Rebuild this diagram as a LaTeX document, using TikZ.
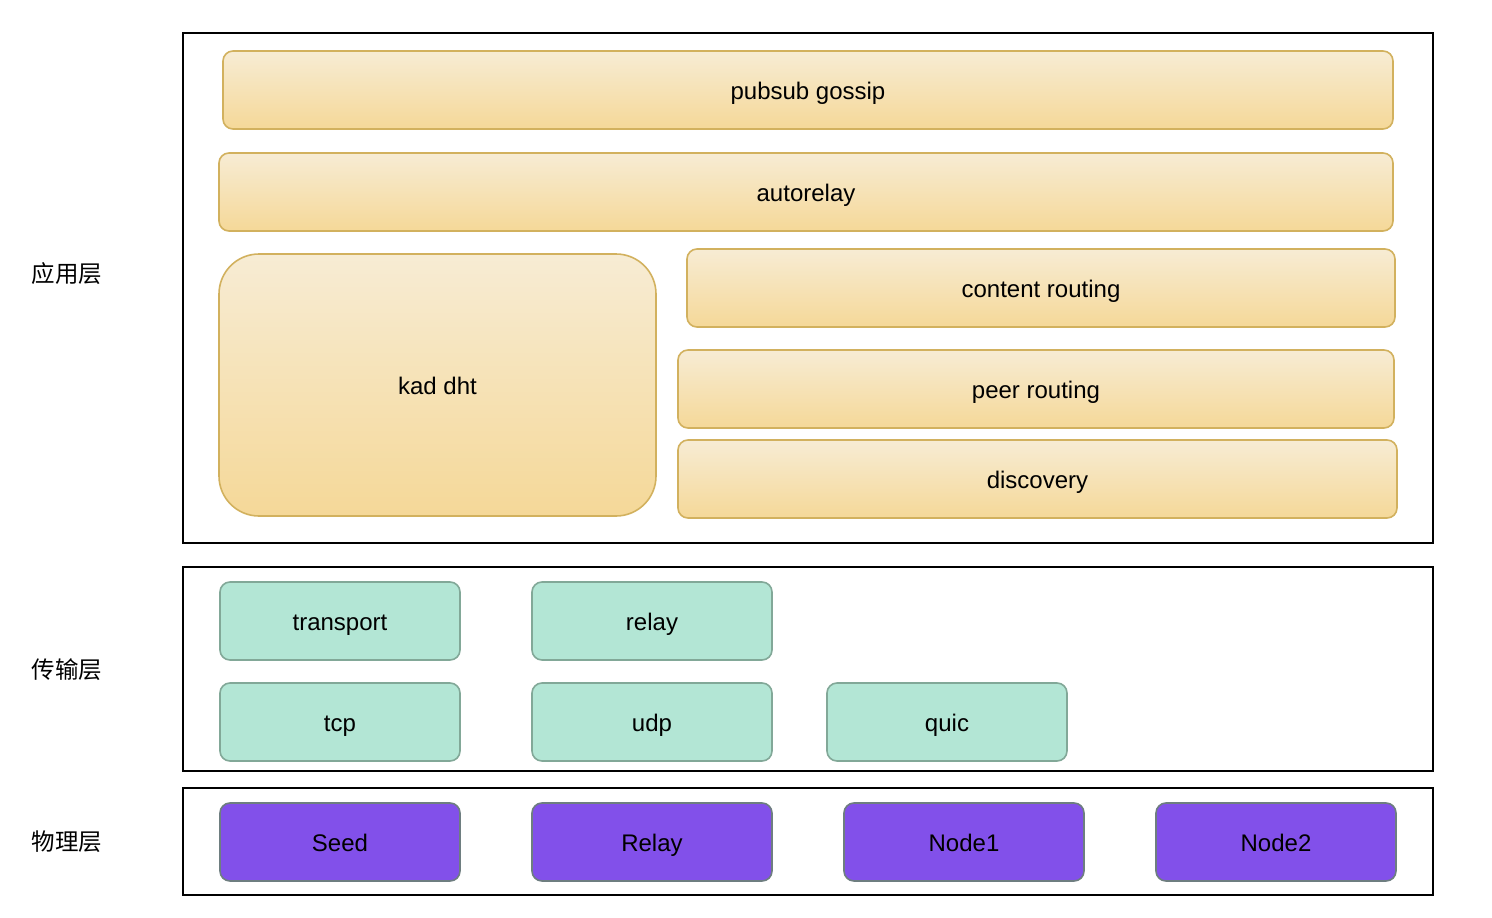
\documentclass[tikz,border=0pt]{standalone}
\usepackage{fontspec}
\setmainfont{Liberation Sans}
\newfontfamily\cjk{Noto Sans CJK SC}
\definecolor{ytop}{HTML}{F7ECD4}
\definecolor{ybot}{HTML}{F5D898}
\definecolor{ystroke}{HTML}{D2B15E}
\definecolor{gfill}{HTML}{B3E6D5}
\definecolor{gstroke}{HTML}{82A898}
\definecolor{pfill}{HTML}{8250EA}
\definecolor{pstroke}{HTML}{6E7E80}
\begin{document}
\begin{tikzpicture}[x=1pt,y=-1pt,
  every node/.style={inner sep=0pt,outer sep=0pt,text height=18pt,text depth=0pt,font=\fontsize{24}{28}\selectfont},
  layer/.style={draw=black,line width=2pt,rectangle},
  ybox/.style={draw=ystroke,line width=1.6pt,rectangle,rounded corners=10pt,top color=ytop,bottom color=ybot},
  gbox/.style={draw=gstroke,line width=1.6pt,rectangle,rounded corners=10pt,fill=gfill,minimum width=240pt,minimum height=78pt},
  pbox/.style={draw=pstroke,line width=1.6pt,rectangle,rounded corners=10pt,fill=pfill,minimum width=240pt,minimum height=78pt},
  lbl/.style={font=\cjk\fontsize{23.5}{28}\selectfont}]
\useasboundingbox (0,0) rectangle (1492,918);
% layer frames
\node[layer,minimum width=1250pt,minimum height=510pt] (app) at (808,288) {};
\node[layer,minimum width=1250pt,minimum height=204pt] (trans) at (808,669) {};
\node[layer,minimum width=1250pt,minimum height=107pt] (phys) at (808,841.5) {};
% labels
\node[lbl] (lapp) at (67,273) {应用层};
\node[lbl] (ltrans) at (67,669) {传输层};
\node[lbl] (lphys) at (67,841) {物理层};
% application layer
\node[ybox,minimum width=1170pt,minimum height=78pt] (pubsub) at (808,90) {pubsub gossip};
\node[ybox,minimum width=1174pt,minimum height=78pt] (autorelay) at (806,192) {autorelay};
\node[ybox,rounded corners=40pt,minimum width=437pt,minimum height=262pt] (kad) at (437.5,385) {kad dht};
\node[ybox,minimum width=708pt,minimum height=78pt] (content) at (1041,288) {content routing};
\node[ybox,minimum width=716pt,minimum height=78pt] (peer) at (1036,389) {peer routing};
\node[ybox,minimum width=719pt,minimum height=78pt] (disc) at (1037.5,479) {discovery};
% transport layer
\node[gbox] (transport) at (340,621) {transport};
\node[gbox] (relay) at (652,621) {relay};
\node[gbox] (tcp) at (340,722) {tcp};
\node[gbox] (udp) at (652,722) {udp};
\node[gbox] (quic) at (947,722) {quic};
% physical layer
\node[pbox] (seed) at (340,842) {Seed};
\node[pbox] (prelay) at (652,842) {Relay};
\node[pbox] (node1) at (964,842) {Node1};
\node[pbox] (node2) at (1276,842) {Node2};
\end{tikzpicture}
\end{document}
